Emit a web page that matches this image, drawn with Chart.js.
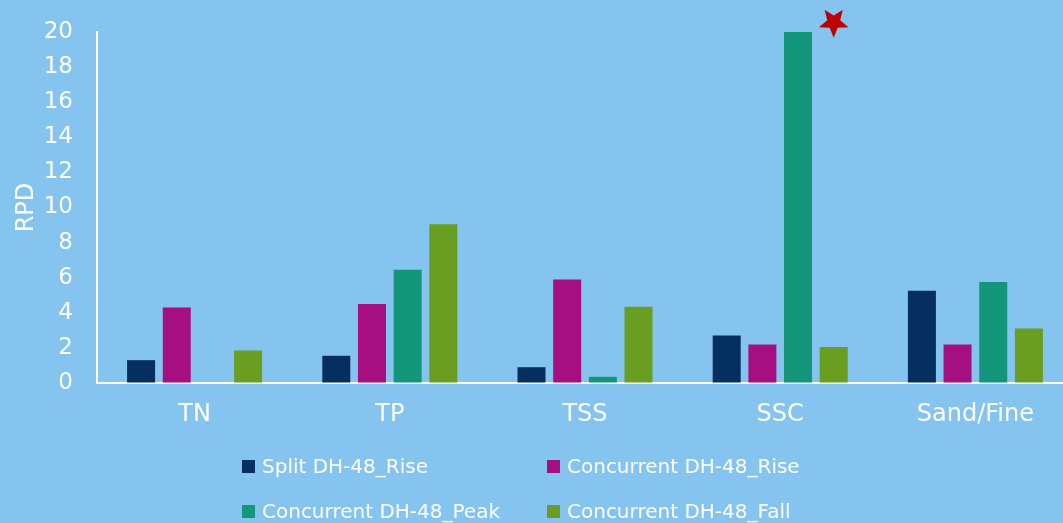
<!DOCTYPE html>
<html>
<head>
<meta charset="utf-8">
<script src="https://cdn.jsdelivr.net/npm/chart.js@4"></script>
<style>
  html, body { margin: 0; padding: 0; background: #85C4EF; overflow: hidden; }
  #wrap { position: relative; width: 1075px; height: 523px; }
  #legend {
    position: absolute; left: 242px; top: 452px;
    display: grid; grid-template-columns: 305px 305px; row-gap: 17px;
    font-family: "DejaVu Sans", sans-serif; font-size: 20px; color: #fff;
  }
  #legend .item { display: flex; align-items: center; height: 28px; white-space: nowrap; }
  #legend .box { width: 13px; height: 13px; margin-right: 7px; flex: none; }
</style>
</head>
<body>
<div id="wrap">
  <canvas id="chart" width="1075" height="523"></canvas>
  <div id="legend"></div>
</div>
<script>
const categories = ["TN", "TP", "TSS", "SSC", "Sand/Fine"];
const seriesNames = ["Split DH-48_Rise", "Concurrent DH-48_Rise", "Concurrent DH-48_Peak", "Concurrent DH-48_Fall"];
const splitRise = [1.3, 1.55, 0.9, 2.7, 5.25];
const concRise = [4.3, 4.5, 5.9, 2.2, 2.2];
const concPeak = [0, 6.45, 0.35, 20, 5.75];
const concFall = [1.85, 9.05, 4.35, 2.05, 3.1];
const seriesColors = ["#042F60", "#A50F80", "#14967A", "#6A9E20"];
const yTicks = [0, 2, 4, 6, 8, 10, 12, 14, 16, 18, 20];
const starValue = 20.55;   // marker above SSC, in the Fall slot

const font = "DejaVu Sans";

// red five-point star (pointing down) flagging the SSC peak
const starMarker = {
  id: "starMarker",
  afterDatasetsDraw(chart) {
    const bar = chart.getDatasetMeta(3).data[3];
    const x = bar.x;
    const y = chart.scales.y.getPixelForValue(starValue);
    const R = 15.5, r = 6.8;
    const ctx = chart.ctx;
    ctx.save();
    ctx.beginPath();
    for (let i = 0; i < 10; i++) {
      const rad = i % 2 === 0 ? R : r;
      const a = Math.PI / 2 + i * Math.PI / 5;
      const px = x + rad * Math.cos(a);
      const py = y + rad * Math.sin(a);
      if (i === 0) ctx.moveTo(px, py); else ctx.lineTo(px, py);
    }
    ctx.closePath();
    ctx.fillStyle = "#C00000";
    ctx.fill();
    ctx.restore();
  }
};

const values = [splitRise, concRise, concPeak, concFall];

const chart = new Chart(document.getElementById("chart"), {
  type: "bar",
  data: {
    labels: categories,
    datasets: values.map((v, i) => ({
      label: seriesNames[i],
      data: v,
      backgroundColor: seriesColors[i],
      borderWidth: 0,
      categoryPercentage: 0.731,
      barPercentage: 0.785
    }))
  },
  options: {
    responsive: false,
    animation: false,
    layout: { padding: { left: 0, right: 2, top: 32, bottom: 80 } },
    plugins: {
      legend: { display: false },
      tooltip: { enabled: false }
    },
    scales: {
      x: {
        grid: { drawOnChartArea: false, drawTicks: false, color: "rgba(0,0,0,0)" },
        border: { display: true, color: "#ffffff", width: 2 },
        ticks: { color: "#fff", padding: 17, font: { family: font, size: 24 } },
        afterFit(s) { s.height = 60; }
      },
      y: {
        min: 0,
        max: 20,
        afterBuildTicks(s) { s.ticks = yTicks.map(v => ({ value: v })); },
        grid: { drawOnChartArea: false, drawTicks: false, color: "rgba(0,0,0,0)" },
        border: { display: true, color: "#ffffff", width: 2 },
        ticks: { color: "#fff", padding: 24, font: { family: font, size: 23 } },
        title: {
          display: true, text: "RPD", color: "#fff",
          padding: { top: 12, bottom: 0 },
          font: { family: font, size: 24 }
        },
        afterFit(s) {
          s.width = 97;
          s.paddingTop = 0;
          s.paddingBottom = 0;
        }
      }
    }
  },
  plugins: [starMarker]
});

// legend laid out in two columns under the plot
const legend = document.getElementById("legend");
seriesNames.forEach((name, i) => {
  const item = document.createElement("div");
  item.className = "item";
  const box = document.createElement("span");
  box.className = "box";
  box.style.background = seriesColors[i];
  const label = document.createElement("span");
  label.textContent = name;
  item.appendChild(box);
  item.appendChild(label);
  legend.appendChild(item);
});
</script>
</body>
</html>
